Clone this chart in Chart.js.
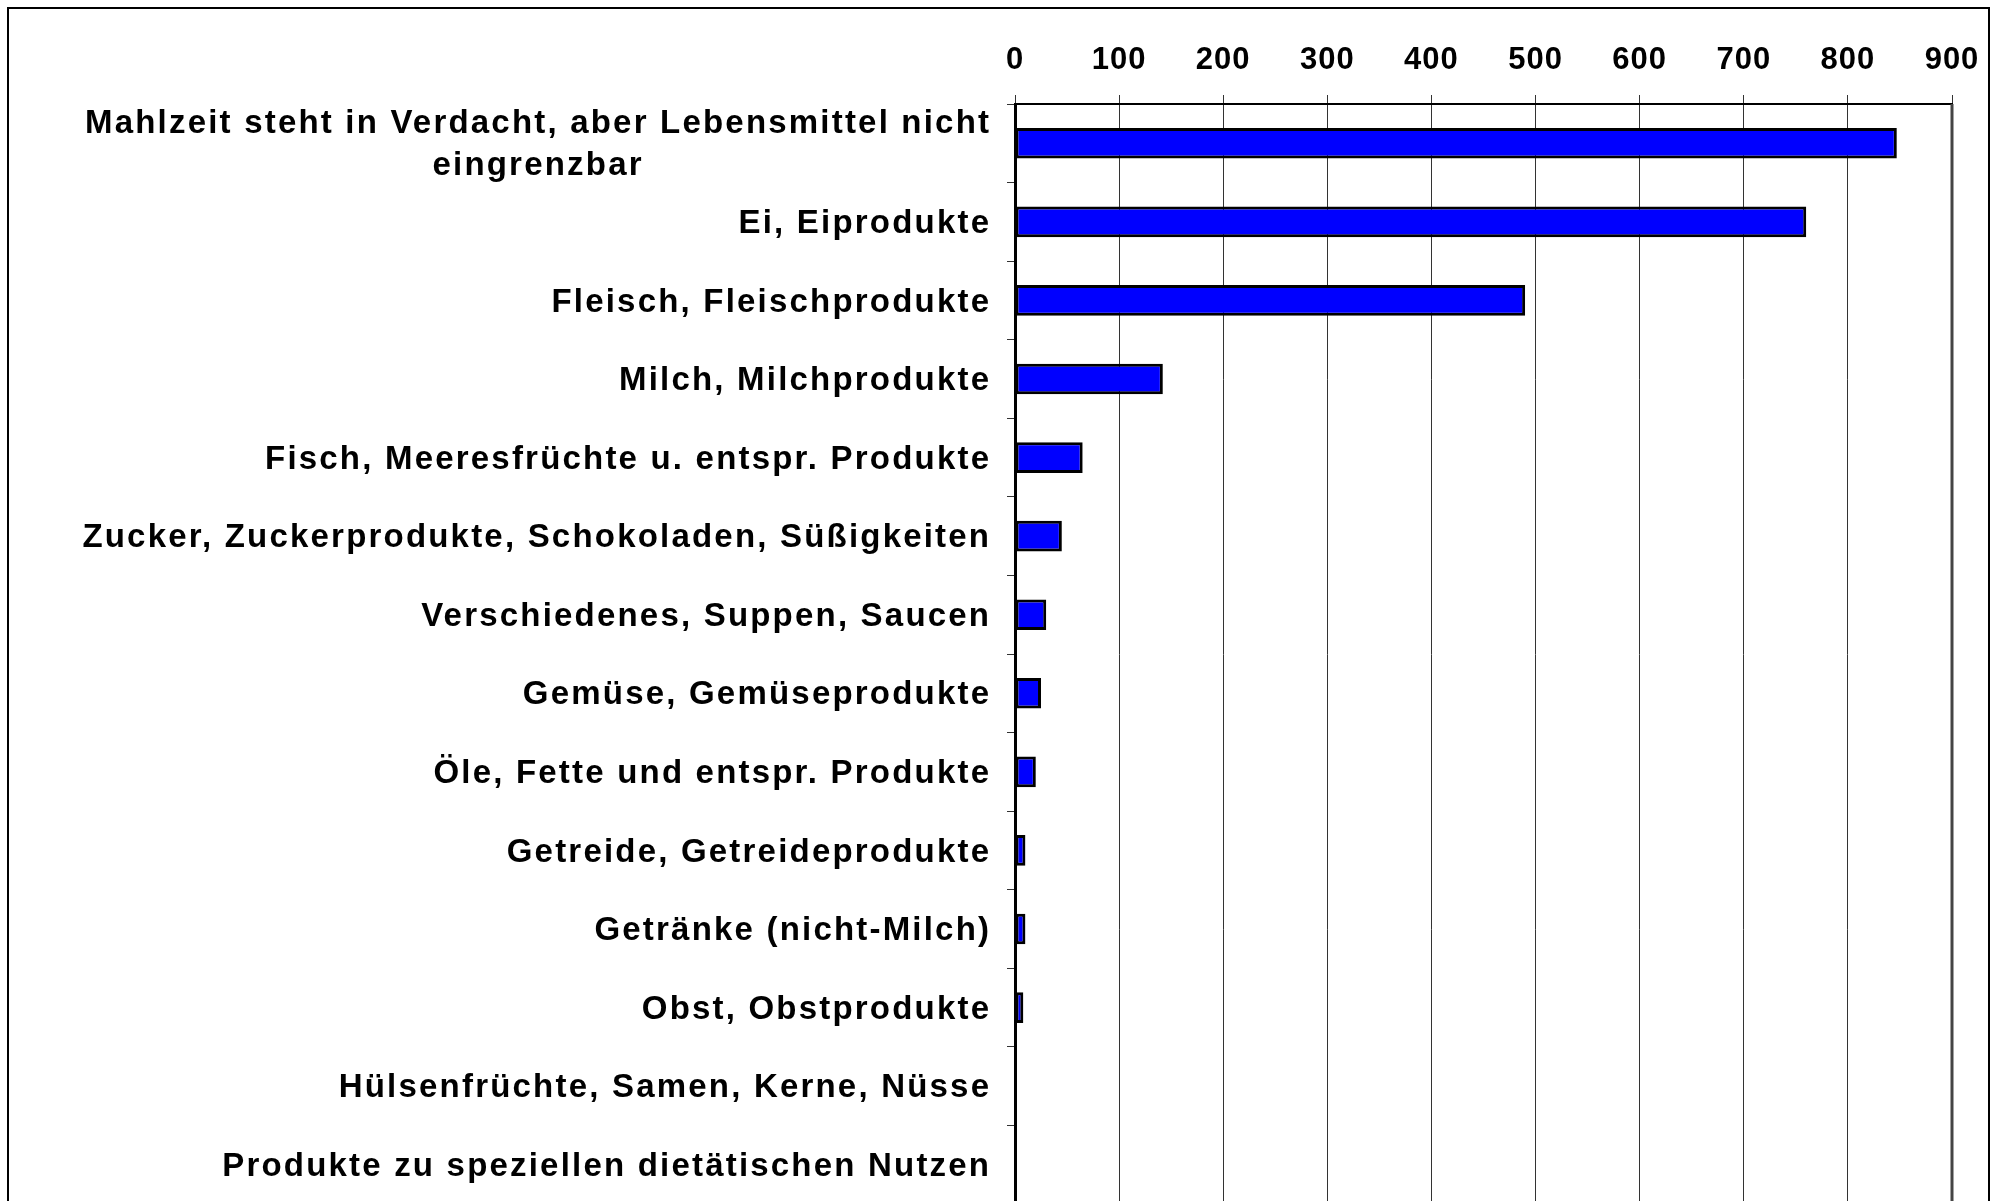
<!DOCTYPE html>
<html>
<head>
<meta charset="utf-8">
<script src="https://cdn.jsdelivr.net/npm/chart.js"></script>
<style>
html,body{margin:0;padding:0;background:#fff;overflow:hidden;}
canvas{display:block;}
</style>
</head>
<body>
<canvas id="c" width="2002" height="1210"></canvas>
<script>
const categories = [
  ["Mahlzeit steht in Verdacht, aber Lebensmittel nicht", "eingrenzbar"],
  "Ei, Eiprodukte",
  "Fleisch, Fleischprodukte",
  "Milch, Milchprodukte",
  "Fisch, Meeresfrüchte u. entspr. Produkte",
  "Zucker, Zuckerprodukte, Schokoladen, Süßigkeiten",
  "Verschiedenes, Suppen, Saucen",
  "Gemüse, Gemüseprodukte",
  "Öle, Fette und entspr. Produkte",
  "Getreide, Getreideprodukte",
  "Getränke (nicht-Milch)",
  "Obst, Obstprodukte",
  "Hülsenfrüchte, Samen, Kerne, Nüsse",
  "Produkte zu speziellen dietätischen Nutzen"
];
const values = [847, 760, 490, 142, 65, 45, 30, 25, 20, 10, 10, 8, 0, 0];
const xTicks = [0, 100, 200, 300, 400, 500, 600, 700, 800, 900];

const FONT = 'bold 33px "Liberation Sans", Arial, sans-serif';
const LS = 2.2;

const frame = {
  id: 'frame',
  beforeDraw(chart) {
    const ctx = chart.ctx;
    ctx.letterSpacing = '1px';
    ctx.save();
    ctx.strokeStyle = '#000';
    ctx.lineWidth = 2;
    ctx.strokeRect(8, 8, 1981, 1300);
    ctx.restore();
  },
  afterDraw(chart) {
    const ctx = chart.ctx;
    const y = chart.scales.y;
    const a = chart.chartArea;
    ctx.save();
    ctx.font = FONT;
    ctx.letterSpacing = LS + 'px';
    ctx.fillStyle = '#000';
    ctx.textBaseline = 'middle';
    const xr = a.left - 26 + LS;
    categories.forEach((lab, i) => {
      const cy = y.getPixelForValue(i) + 2;
      if (Array.isArray(lab)) {
        const w = ctx.measureText(lab[0]).width;
        const cx = xr - w / 2;
        ctx.textAlign = 'center';
        const lh = 42;
        const n = lab.length;
        lab.forEach((l, k) => {
          ctx.fillText(l, cx, cy + (k - (n - 1) / 2) * lh);
        });
      } else {
        ctx.textAlign = 'right';
        ctx.fillText(lab, xr, cy);
      }
    });
    // right border of plot
    ctx.letterSpacing = '0px';
    ctx.strokeStyle = '#444';
    ctx.lineWidth = 3;
    ctx.beginPath();
    ctx.moveTo(a.right, a.top);
    ctx.lineTo(a.right, a.bottom);
    ctx.stroke();
    ctx.restore();
  }
};

new Chart(document.getElementById('c'), {
  type: 'bar',
  data: {
    labels: categories.map((c, i) => i),
    datasets: [{
      data: values,
      backgroundColor: '#0000FF',
      borderColor: '#000',
      borderWidth: 3,
      borderSkipped: false,
      barPercentage: 0.39,
      categoryPercentage: 1
    }]
  },
  options: {
    indexAxis: 'y',
    responsive: false,
    animation: false,
    events: [],
    layout: { padding: { left: 0, right: 50, top: 0, bottom: 6 } },
    plugins: { legend: { display: false }, tooltip: { enabled: false } },
    scales: {
      x: {
        position: 'top',
        min: 0,
        max: 900,
        afterBuildTicks(s) { s.ticks = xTicks.map(v => ({ value: v })); },
        ticks: {
          color: '#000',
          font: { family: '"Liberation Sans", Arial, sans-serif', size: 31, weight: 'bold' },
          padding: 16
        },
        grid: {
          color: '#333',
          lineWidth: 1,
          drawTicks: true,
          tickLength: 9,
          tickColor: '#333'
        },
        border: { display: true, color: '#000', width: 2 },
        afterFit(s) { s.height = 104; }
      },
      y: {
        type: 'category',
        ticks: { display: false },
        grid: {
          drawOnChartArea: false,
          drawTicks: true,
          tickLength: 8,
          color: '#333',
          offset: true
        },
        border: { display: true, color: '#000', width: 3 },
        afterFit(s) { s.width = 1015; }
      }
    }
  },
  plugins: [frame]
});
</script>
</body>
</html>
